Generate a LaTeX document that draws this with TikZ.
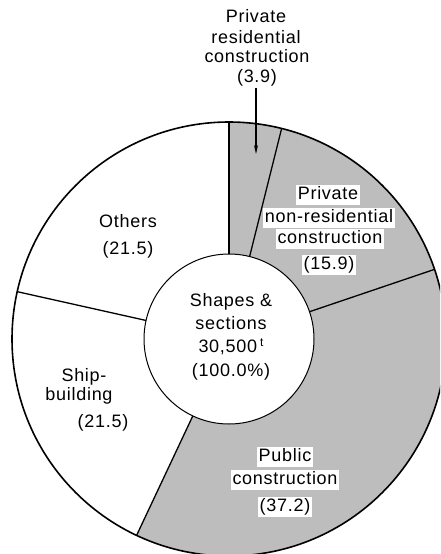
\documentclass[tikz,border=0pt]{standalone}
\usepackage{fontspec}
\setmainfont[LetterSpace=4]{Liberation Sans}
\usetikzlibrary{arrows.meta,calc}
\begin{document}
\begin{tikzpicture}[x=1pt,y=1pt,
  lab/.style={font=\fontsize{18}{20}\selectfont, inner sep=1.6pt, text height=12.5pt, text depth=3.5pt},
  wlab/.style={lab, fill=white},
  seg/.style={line width=1.3pt},
  shade/.style={fill=black!26}]
\useasboundingbox (0,0) rectangle (440,-554);
\clip (0,0) rectangle (440,-554);
\coordinate (C) at (229,-339);
\def\R{217}
\def\r{85}
% shaded sector (private residential, private non-residential, public)
\fill[shade] ($(C)+(90:\R)$) arc[start angle=90,end angle=-115.2,radius=\R]
   -- ($(C)+(-115.2:\r)$) arc[start angle=-115.2,end angle=90,radius=\r] -- cycle;
% outer circle
\draw[line width=1.6pt] (C) circle[radius=\R];
% boundaries
\foreach \a in {90,75.96,18.72,-115.2,167.4}
  \draw[seg] ($(C)+(\a:\r)$) -- ($(C)+(\a:\R)$);
% inner circle
\node[circle, draw, line width=1pt, fill=white, minimum size=170pt, inner sep=0pt] (ctr) at (C) {};
% centre texts
\node[lab] (c1) at (231,-302) {Shapes \&};
\node[lab] (c2) at (231,-325) {sections};
\node[lab] (c3) at (231,-348) {30,500\,\raisebox{6pt}{\fontsize{12}{12}\selectfont t}};
\node[lab] (c4) at (231,-372) {(100.0\%)};
% top label
\node[lab] (p1) at (256,-18) {Private};
\node[lab] (p2) at (256,-39) {residential};
\node[lab] (p3) at (257,-58) {construction};
\node[lab] (p4) at (257,-78) {(3.9)};
\coordinate (ptip) at (256,-154);
\draw[line width=1.2pt, -{Stealth[length=9pt,width=4pt]}] (p4.south -| ptip) -- (ptip);
% others
\node[lab] (o1) at (128,-223) {Others};
\node[lab] (o2) at (128,-250) {(21.5)};
% private non-residential
\node[wlab] (n1) at (328,-195) {Private};
\node[wlab] (n2) at (329,-218) {non-residential};
\node[wlab] (n3) at (330,-239) {construction};
\node[wlab] (n4) at (329,-265) {(15.9)};
% shipbuilding
\node[lab] (s1) at (84,-377) {Ship-};
\node[lab] (s2) at (79,-396) {building};
\node[lab] (s3) at (103,-423) {(21.5)};
% public
\node[wlab] (u1) at (285,-457) {Public};
\node[wlab] (u2) at (285,-480) {construction};
\node[wlab] (u3) at (285,-507) {(37.2)};
\end{tikzpicture}
\end{document}
